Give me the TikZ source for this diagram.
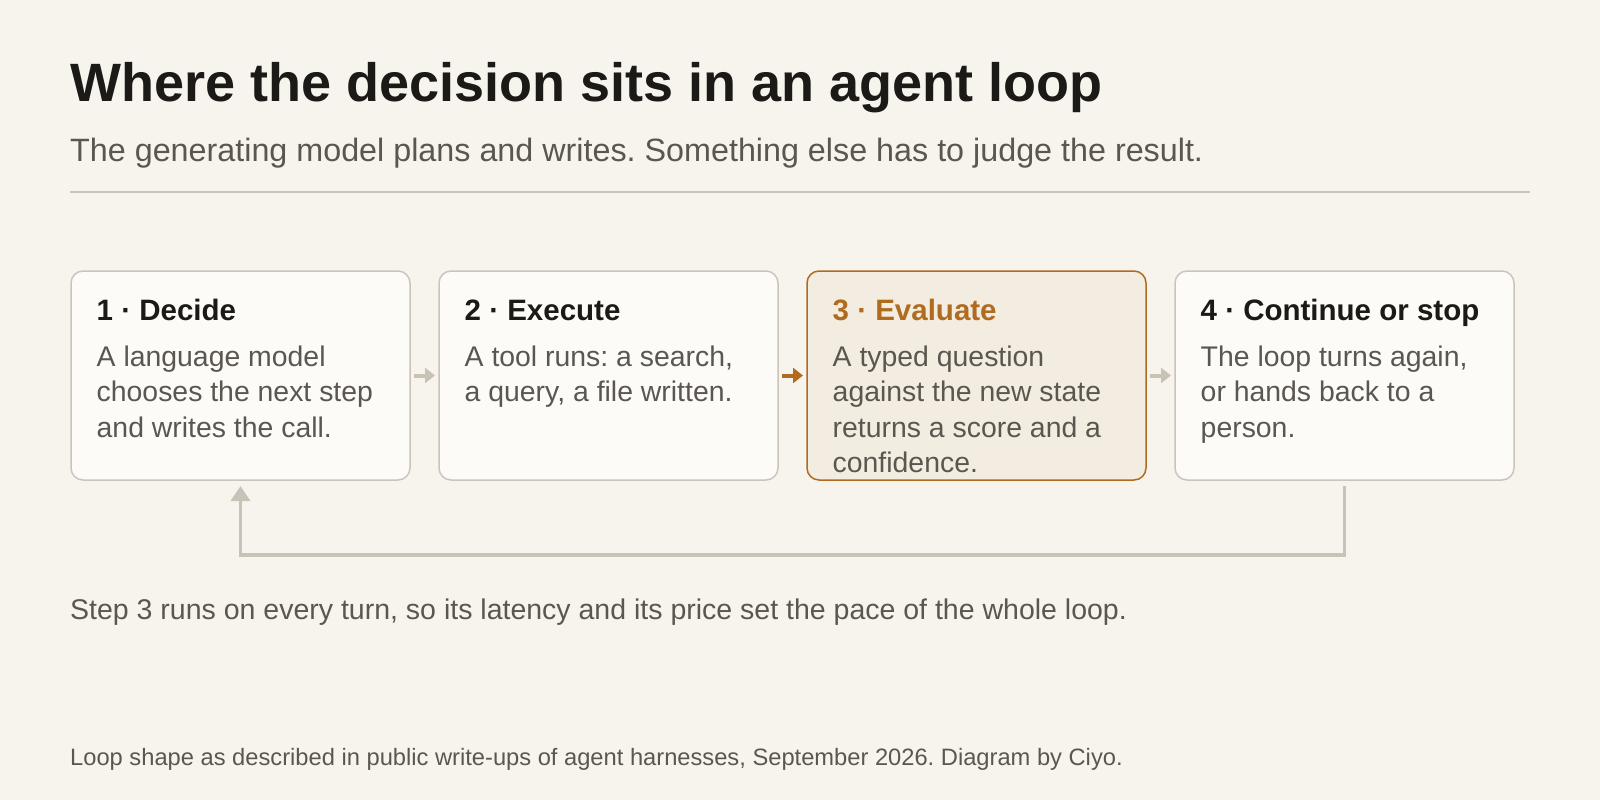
\documentclass[tikz,border=0pt]{standalone}
\usepackage{fontspec}
\setmainfont{Liberation Sans}
\usetikzlibrary{arrows.meta}
\frenchspacing
\definecolor{bg}{HTML}{F7F4EE}
\definecolor{boxfill}{HTML}{FCFBF8}
\definecolor{boxline}{HTML}{CBC4B8}
\definecolor{hifill}{HTML}{F3ECE1}
\definecolor{accent}{HTML}{B06B1F}
\definecolor{ink}{HTML}{1C1A17}
\definecolor{muted}{HTML}{5B5750}
\definecolor{connector}{HTML}{C9C2B6}
\newcommand{\cardlines}[1]{\begin{tabular}[t]{@{}l@{}}#1\end{tabular}}
\tikzset{
  card/.style={draw=boxline, line width=1.5pt, fill=boxfill, rounded corners=12pt,
    minimum width=339pt, minimum height=209pt, anchor=north west, inner sep=0pt, outer sep=0pt},
  hicard/.style={card, draw=accent, fill=hifill},
  cardhead/.style={anchor=base west, inner sep=0pt, text=ink, font=\fontsize{29.5}{35}\selectfont\bfseries},
  cardbody/.style={anchor=base west, inner sep=0pt, text=muted,
    font=\fontsize{28.4}{35.5}\selectfont},
  stepflow/.style={draw=connector, line width=4pt, -{Triangle[length=10pt,width=15pt]}},
  hiflow/.style={stepflow, draw=accent},
  loopflow/.style={draw=connector, line width=3.5pt, -{Triangle[length=15pt,width=19pt]}}
}
\begin{document}
\begin{tikzpicture}[x=1pt,y=-1pt]
\useasboundingbox[fill=bg] (0,0) rectangle (1600,800);
\node[anchor=base west, inner sep=0pt, text=ink, font=\fontsize{54}{60}\selectfont\bfseries] (title) at (70,101) {Where the decision sits in an agent loop};
\node[anchor=base west, inner sep=0pt, text=muted, font=\fontsize{32.3}{38}\selectfont] (subtitle) at (70,161.7) {The generating model plans and writes. Something else has to judge the result.};
\coordinate (ruleL) at (70,192);
\coordinate (ruleR) at (1530,192);
\draw[draw=boxline, line width=2pt] (ruleL) -- (ruleR);

\node[card] (b1) at (71,271) {};
\node[card] (b2) at (439,271) {};
\node[hicard] (b3) at (807,271) {};
\node[card] (b4) at (1175,271) {};

\node[cardhead] (h1) at (96.5,320) {1 · Decide};
\node[cardhead] (h2) at (464.5,320) {2 · Execute};
\node[cardhead, text=accent] (h3) at (832.5,320) {3 · Evaluate};
\node[cardhead] (h4) at (1200.5,320) {4 · Continue or stop};

\node[cardbody] (t1) at (96.5,366) {\cardlines{A language model\\chooses the next step\\and writes the call.}};
\node[cardbody] (t2) at (464.5,366) {\cardlines{A tool runs: a search,\\a query, a file written.}};
\node[cardbody] (t3) at (832.5,366) {\cardlines{A typed question\\against the new state\\returns a score and a\\confidence.}};
\node[cardbody] (t4) at (1200.5,366) {\cardlines{The loop turns again,\\or hands back to a\\person.}};

\draw[stepflow] ([xshift=4pt]b1.east) -- ([xshift=-4pt]b2.west);
\draw[hiflow] ([xshift=4pt]b2.east) -- ([xshift=-4pt]b3.west);
\draw[stepflow] ([xshift=4pt]b3.east) -- ([xshift=-4pt]b4.west);

\coordinate (loopA) at ([yshift=-6pt]b4.south);
\coordinate (loopB) at ([yshift=-6pt]b1.south);
\draw[loopflow] (loopA) -- ++(0,69) -| (loopB);

\node[anchor=base west, inner sep=0pt, text=muted, font=\fontsize{28.5}{34}\selectfont] (note) at (70,619.3) {Step 3 runs on every turn, so its latency and its price set the pace of the whole loop.};
\node[anchor=base west, inner sep=0pt, text=muted, font=\fontsize{23.7}{28}\selectfont] (foot) at (70,765) {Loop shape as described in public write-ups of agent harnesses, September 2026. Diagram by Ciyo.};
\end{tikzpicture}
\end{document}
